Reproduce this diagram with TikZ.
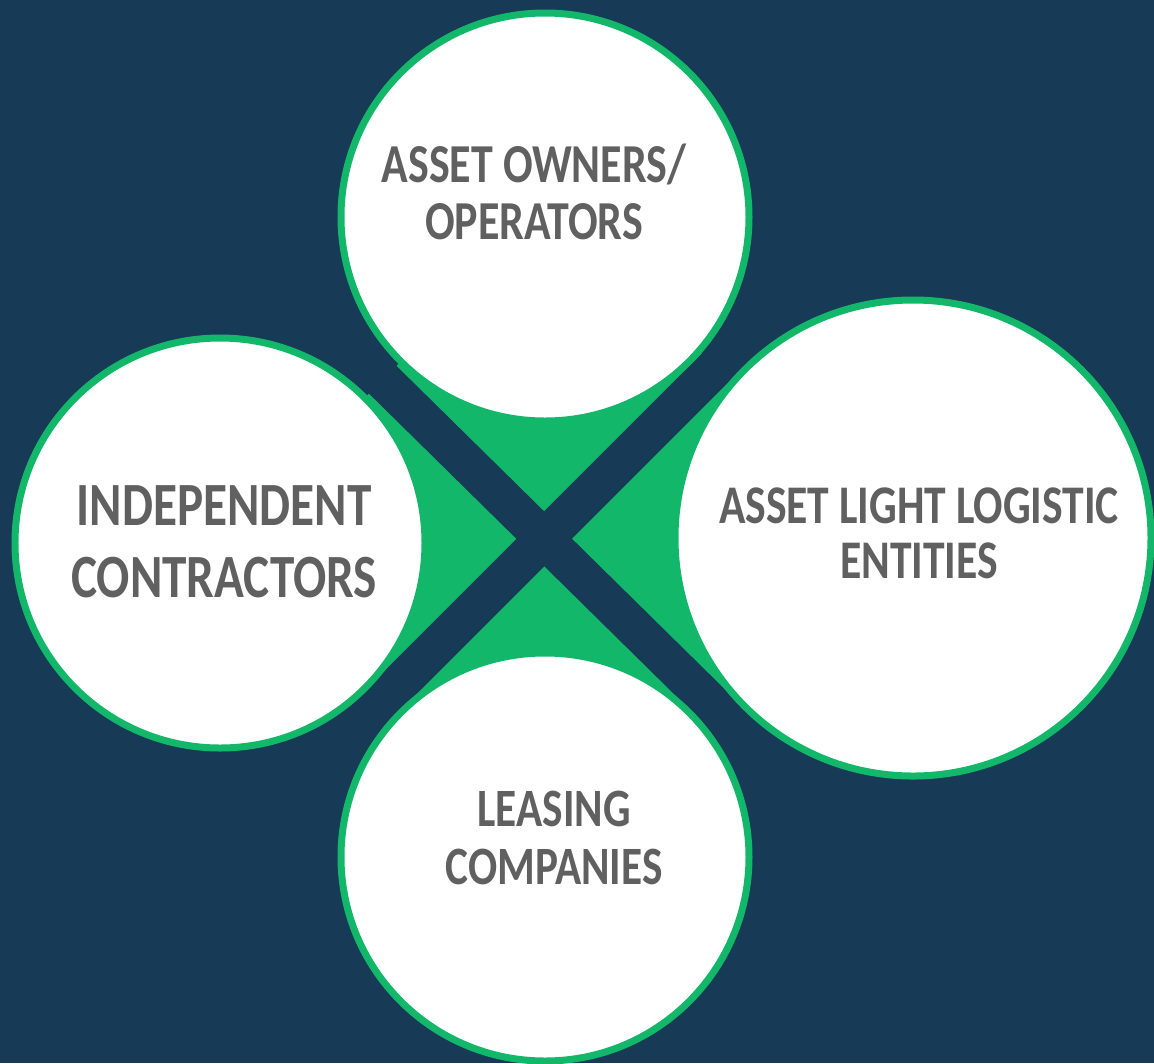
\documentclass[tikz,border=0pt]{standalone}
\usepackage{fontspec}
\setmainfont{Carlito}
\definecolor{navy}{HTML}{173A57}
\definecolor{leaf}{HTML}{12B76A}
\definecolor{inkgray}{HTML}{606060}
\tikzset{
  bubble/.style={circle,draw=leaf,fill=white,line width=0.14cm,inner sep=0pt},
  cross/.style={draw=navy,line width=0.78cm,shorten <=-0.4cm,shorten >=-0.4cm},
  caption/.style={text=inkgray,align=center,yscale=1.25,transform shape,inner sep=0pt}
}
\begin{document}
\begin{tikzpicture}[x=0.02cm,y=-0.02cm]
\useasboundingbox (0,0) rectangle (1154,1063);
\clip (0,0) rectangle (1154,1063);
\fill[navy] (0,0) rectangle (1154,1063);
\foreach \kname/\kx/\ky in {ct/545/217,cr/913/538,cb/545/857,cl/220/543}{\coordinate (\kname) at (\kx,\ky);}
\foreach \kname/\kx/\ky in {gtl/383/380,gbr/716/708,gtr/716/367,gbl/383/700}{\coordinate (\kname) at (\kx,\ky);}
\fill[leaf] (ct)--(cr)--(cb)--(cl)--cycle;
\draw[cross] (gtl)--(gbr);
\draw[cross] (gtr)--(gbl);
\foreach \kname/\kat/\kr in {owners/ct/204,light/cr/238,leasing/cb/204,indep/cl/205}{\pgfmathsetmacro{\kd}{2*\kr*0.02}\node[bubble,minimum size=\kd cm] (\kname) at (\kat) {};}
\node[caption,font=\bfseries\fontsize{25}{26}\selectfont] (owners-lbl) at (534,192) {ASSET OWNERS/\\OPERATORS};
\node[caption,font=\bfseries\fontsize{28}{33}\selectfont] (indep-lbl) at (224,542) {INDEPENDENT\\CONTRACTORS};
\node[caption,font=\bfseries\fontsize{24.8}{25}\selectfont] (light-lbl) at (919,533) {ASSET LIGHT LOGISTIC\\ENTITIES};
\node[caption,font=\bfseries\fontsize{24.6}{26}\selectfont] (leasing-lbl) at (554,838) {LEASING\\COMPANIES};
\end{tikzpicture}
\end{document}
